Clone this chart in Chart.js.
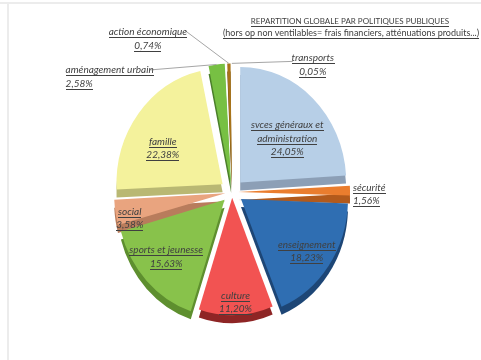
<!DOCTYPE html>
<html>
<head>
<meta charset="utf-8">
<script src="https://cdn.jsdelivr.net/npm/chart.js@4.4.0/dist/chart.umd.min.js"></script>
<style>
  html, body { margin: 0; padding: 0; background: #fff; }
  #cadre { width: 481px; height: 360px; }
</style>
</head>
<body>
<div id="cadre"><canvas id="repartition" width="481" height="360"></canvas></div>
<script>
// Répartition globale par politiques publiques (en % du total)
const politiques = ["svces généraux et administration", "sécurité", "enseignement", "culture",
    "sports et jeunesse", "social", "famille", "aménagement urbain", "action économique", "transports"];
const parts = [24.05, 1.56, 18.23, 11.20, 15.63, 3.58, 22.38, 2.58, 0.74, 0.05];
// libellés coupés sur plusieurs lignes comme dans le graphique
const etiquettes = [["svces généraux et", "administration"], ["sécurité"], ["enseignement"], ["culture"],
    ["sports et jeunesse"], ["social"], ["famille"], ["aménagement urbain"], ["action économique"], ["transports"]];
const titre = ["REPARTITION GLOBALE PAR POLITIQUES PUBLIQUES",
    "(hors op non ventilables= frais financiers, atténuations produits...)"];

const couleurs = ['#b7cfe7', '#ea7d2e', '#2f6eb2', '#f25352', '#88c24b', '#e9a47f', '#f4f29c', '#77c043', '#a8741a', '#4f81bd'];
const couleursCote = ['#8c9fb6', '#b25a1c', '#1d4676', '#8e2525', '#5e8f2f', '#b87c5c', '#b9b873', '#4b7f2a', '#6b4a10', '#34567d'];

const etirement = 1.09;   // camembert un peu plus haut que large
const epaisseur = 8;      // hauteur de la tranche en relief
const rayon = 106;
const eclatement = [12, 12, 12, 7, 12, 12, 12, 12, 12, 12];
const police = 'Lato, "Open Sans", sans-serif';

// position des étiquettes : r = fraction du rayon sur la bissectrice, dx/dy = décalage
const placement = [
    { r: 0.62, dx: 2, dy: 8 },
    { r: 1, dx: 3, dy: 3.5, align: 'left' },
    { r: 0.75, dx: 0, dy: 2 },
    { r: 0.89, dx: 0, dy: 0 },
    { r: 0.75, dx: 0, dy: -4 },
    { r: 0.87, dx: 0, dy: 8 },
    { r: 0.64, dx: -6, dy: 9 },
    { r: 1, dx: -151, dy: 12, align: 'left', trait: [-67, 5.5] },
    { r: 1, dx: -81, dy: -25, trait: [-44, -33] },
    { r: 1, dx: 81, dy: 1, trait: [61, -2] }
];

function pourcent(v) {
    return v.toFixed(2).replace('.', ',') + '%';
}

// géométrie d'une part éclatée (même calcul que ArcElement.draw)
function geometrie(arc) {
    const off = (arc.options.offset || 0) / 4;
    const fix = 1 - Math.sin(Math.min(Math.PI, arc.circumference));
    const milieu = (arc.startAngle + arc.endAngle) / 2;
    return { t: off, R: arc.outerRadius + off * fix, a: milieu };
}

function ligneSoulignee(ctx, texte, x, y, align) {
    ctx.textAlign = align;
    ctx.fillText(texte, x, y);
    const w = ctx.measureText(texte).width;
    const x0 = align === 'left' ? x : align === 'right' ? x - w : x - w / 2;
    ctx.fillRect(Math.round(x0), Math.round(y + 2), Math.round(w), 1);
}

const fond = {
    id: 'fond',
    beforeDraw(chart) {
        const ctx = chart.ctx;
        ctx.save();
        ctx.fillStyle = '#ffffff';
        ctx.fillRect(0, 0, chart.width, chart.height);
        ctx.strokeStyle = '#ececec';
        ctx.lineWidth = 2;
        ctx.beginPath();
        ctx.moveTo(0, 3);
        ctx.lineTo(chart.width, 3);
        ctx.moveTo(8, 3);
        ctx.lineTo(8, chart.height);
        ctx.stroke();
        ctx.restore();
    }
};

// relief : chaque part est d'abord dessinée plus bas dans une teinte foncée
const relief = {
    id: 'relief',
    beforeDatasetsDraw(chart) {
        const ctx = chart.ctx;
        const meta = chart.getDatasetMeta(0);
        const { x, y } = meta.data[0];
        ctx.save();
        ctx.translate(x, y);
        ctx.scale(1, etirement);
        ctx.translate(-x, -y);
        ctx.save();
        ctx.translate(0, epaisseur / etirement);
        meta.data.forEach((arc, i) => {
            const cote = { ...arc, options: { ...arc.options, backgroundColor: couleursCote[i], borderWidth: 0 } };
            arc.draw.call(cote, ctx);
        });
        ctx.restore();
    },
    afterDatasetsDraw(chart) {
        chart.ctx.restore();
    }
};

const libelles = {
    id: 'libelles',
    afterDraw(chart) {
        const ctx = chart.ctx;
        const meta = chart.getDatasetMeta(0);
        ctx.save();
        ctx.fillStyle = '#404040';
        ctx.textBaseline = 'alphabetic';

        // titre
        ctx.font = '8px ' + police;
        ligneSoulignee(ctx, titre[0], 350, 24, 'center');
        ctx.font = '9px ' + police;
        ligneSoulignee(ctx, titre[1], 351, 36, 'center');

        meta.data.forEach((arc, i) => {
            const p = placement[i];
            const g = geometrie(arc);
            const d = g.t + p.r * g.R;
            const ax = arc.x + Math.cos(g.a) * d;
            const ay = arc.y + Math.sin(g.a) * d * etirement;

            if (p.trait) {
                ctx.strokeStyle = '#a6a6a6';
                ctx.lineWidth = 1;
                ctx.beginPath();
                ctx.moveTo(ax, ay);
                ctx.lineTo(ax + p.trait[0], ay + p.trait[1]);
                ctx.stroke();
            }

            const lignes = etiquettes[i].concat([pourcent(parts[i])]);
            const pas = 13.5;
            const cx = ax + p.dx;
            const cy = ay + p.dy;
            ctx.font = 'italic 10px ' + police;
            lignes.forEach((txt, k) => {
                const ly = cy + (k - (lignes.length - 1) / 2) * pas + 3.5;
                ligneSoulignee(ctx, txt, cx, ly, p.align || 'center');
            });
        });
        ctx.restore();
    }
};

new Chart(document.getElementById('repartition'), {
    type: 'pie',
    data: {
        labels: politiques,
        datasets: [{
            data: parts,
            backgroundColor: couleurs,
            borderWidth: 0,
            radius: rayon,
            clip: false,
            // éclatement : ~12 px pour les grosses parts, moins pour les fines
            offset: (c) => {
                const total = c.dataset.data.reduce((s, v) => s + v, 0);
                const circ = c.dataset.data[c.dataIndex] / total * 2 * Math.PI;
                const fix = 1 - Math.sin(Math.min(Math.PI, circ));
                return 4 * eclatement[c.dataIndex] / (1 + fix);
            }
        }]
    },
    options: {
        responsive: false,
        animation: false,
        layout: { padding: { left: 40, right: 57, top: 68, bottom: 44 } },
        plugins: {
            legend: { display: false },
            tooltip: { enabled: false },
            title: { display: false }
        }
    },
    plugins: [fond, relief, libelles]
});
</script>
</body>
</html>
